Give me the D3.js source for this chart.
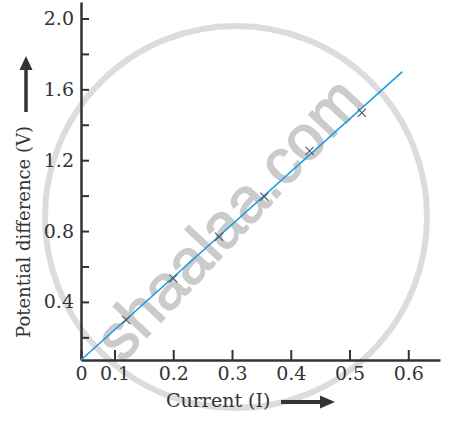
<!DOCTYPE html>
<html>
<head>
<meta charset="utf-8">
<script src="https://cdn.jsdelivr.net/npm/d3@7"></script>
<style>
  body { margin: 0; background: #fff; }
  svg { display: block; }
</style>
</head>
<body>
<svg width="473" height="434"></svg>
<script>
// 読み取った測定値 (I, V)
var currentA = [0.12, 0.20, 0.278, 0.355, 0.432, 0.521];
var voltageV = [0.298, 0.533, 0.768, 0.994, 1.252, 1.468];

// 直線 (原点付近から 0.59 A まで)
var lineI = [0.043, 0.59];
var lineV = [0.072, 1.70];

var xTicks = [0.1, 0.2, 0.3, 0.4, 0.5, 0.6];
var yTicks = [0.2, 0.4, 0.6, 0.8, 1.0, 1.2, 1.4, 1.6, 1.8, 2.0];
var yLabelled = [0.4, 0.8, 1.2, 1.6, 2.0];

var xMin = 0.043, yMin = 0.072;

var svg = d3.select("svg");
var ink = "#333";
var serif = "'DejaVu Serif', serif";

var x = d3.scaleLinear().domain([xMin, 0.654]).range([81, 440]);
var y = d3.scaleLinear().domain([yMin, 2.093]).range([360, 2]);

// 透かし
var wm = svg.append("g").attr("class", "watermark");
wm.append("circle")
  .attr("cx", 236).attr("cy", 217).attr("r", 191)
  .attr("fill", "none").attr("stroke", "#dcdcdc").attr("stroke-width", 6);
wm.append("text")
  .attr("transform", "translate(228,218) rotate(-47)")
  .attr("text-anchor", "middle")
  .attr("dy", "0.35em")
  .style("font-family", "'Liberation Sans', Arial, sans-serif")
  .style("font-size", "63px")
  .attr("fill", "#cbcbcb")
  .attr("stroke", "#cbcbcb")
  .attr("stroke-width", 1.5)
  .text("shaalaa.com");

// x軸
var xAxis = d3.axisBottom(x)
  .tickValues([xMin].concat(xTicks))
  .tickSize(-10)
  .tickSizeOuter(0)
  .tickPadding(7)
  .tickFormat(function(d) { return d === xMin ? "0" : d3.format(".1f")(d); });

var gx = svg.append("g").attr("transform", "translate(0," + y(yMin) + ")").call(xAxis);

// y軸
var yAxis = d3.axisLeft(y)
  .tickValues(yTicks)
  .tickSize(-8)
  .tickSizeOuter(0)
  .tickPadding(7)
  .tickFormat(function(d) { return yLabelled.indexOf(d) >= 0 ? d3.format(".1f")(d) : ""; });

var gy = svg.append("g").attr("transform", "translate(" + x(xMin) + ",0)").call(yAxis);

[gx, gy].forEach(function(g) {
  g.select(".domain").attr("stroke", ink).attr("stroke-width", 2.5);
  g.selectAll(".tick line").attr("stroke", ink).attr("stroke-width", 2);
  g.selectAll(".tick text")
    .attr("fill", ink)
    .style("font-family", serif)
    .style("font-size", "19px");
});

// 直線
svg.append("path")
  .datum(d3.zip(lineI, lineV))
  .attr("fill", "none")
  .attr("stroke", "#1a9de6")
  .attr("stroke-width", 1.6)
  .attr("d", d3.line().x(function(d) { return x(d[0]); }).y(function(d) { return y(d[1]); }));

// 測定点
svg.append("g").selectAll("path")
  .data(d3.zip(currentA, voltageV))
  .enter().append("path")
    .attr("transform", function(d) { return "translate(" + x(d[0]) + "," + y(d[1]) + ")"; })
    .attr("d", d3.symbol(d3.symbolTimes, 45))
    .attr("fill", "none")
    .attr("stroke", "#555")
    .attr("stroke-width", 1.1);

// 軸ラベル
svg.append("text")
  .attr("transform", "translate(30,232) rotate(-90)")
  .attr("text-anchor", "middle")
  .attr("fill", ink)
  .style("font-family", serif)
  .style("font-size", "18px")
  .text("Potential difference (V)");

svg.append("text")
  .attr("x", 166).attr("y", 407)
  .attr("fill", ink)
  .style("font-family", serif)
  .style("font-size", "19px")
  .text("Current (I)");

// 矢印
svg.append("line")
  .attr("x1", 26).attr("y1", 112).attr("x2", 26).attr("y2", 66)
  .attr("stroke", ink).attr("stroke-width", 3.5);
svg.append("path")
  .attr("d", "M26,56 L19.5,70 L32.5,70 Z")
  .attr("fill", ink);

svg.append("line")
  .attr("x1", 281).attr("y1", 402).attr("x2", 324).attr("y2", 402)
  .attr("stroke", ink).attr("stroke-width", 4);
svg.append("path")
  .attr("d", "M335,402 L320,395.5 L320,408.5 Z")
  .attr("fill", ink);
</script>
</body>
</html>
